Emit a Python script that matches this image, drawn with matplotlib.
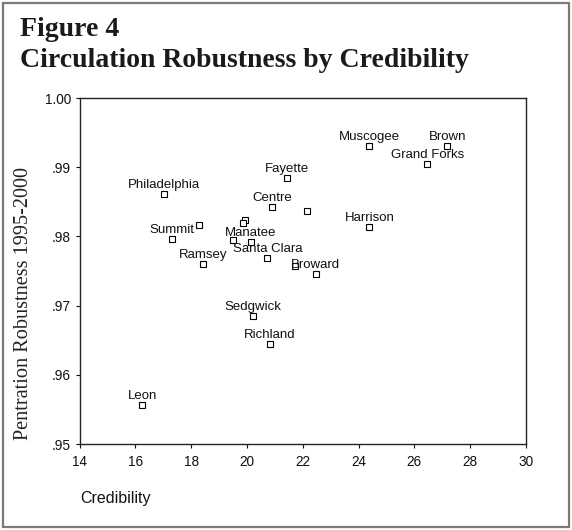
import matplotlib
matplotlib.use("Agg")
import matplotlib.pyplot as plt
from matplotlib.patches import Rectangle
from matplotlib.ticker import FixedLocator, FixedFormatter

# Credibility score and penetration robustness (1995-2000) by county
counties = ["Philadelphia", "", "Summit", "Ramsey", "Fayette", "Centre", "",
            "", "", "", "Manatee", "Santa Clara", "", "Broward",
            "Muscogee", "Brown", "Grand Forks", "Harrison",
            "Sedgwick", "Richland", "Leon"]
credibility = [17.04, 18.29, 17.30, 18.42, 21.45, 20.91, 22.16,
               19.93, 19.85, 19.50, 20.15, 20.73, 21.72, 22.47,
               24.39, 27.18, 26.47, 24.39,
               20.23, 20.83, 16.25]
robustness = [0.9861, 0.9816, 0.9796, 0.9760, 0.9885, 0.9843, 0.9836,
              0.9823, 0.9819, 0.9795, 0.9792, 0.9769, 0.9757, 0.9746,
              0.9931, 0.9931, 0.9904, 0.9813,
              0.9685, 0.9644, 0.9557]

x_ticks = [14, 16, 18, 20, 22, 24, 26, 28, 30]
y_ticks = [0.95, 0.96, 0.97, 0.98, 0.99, 1.00]
y_tick_labels = [".95", ".96", ".97", ".98", ".99", "1.00"]

W, H = 572, 530
fig = plt.figure(figsize=(W / 100, H / 100), dpi=100)
fig.patch.set_facecolor("white")

# outer frame around the whole figure
fig.add_artist(Rectangle((3 / W, 3 / H), (W - 6) / W, (H - 6) / H,
                         transform=fig.transFigure, fill=False,
                         edgecolor="#7a7a7a", linewidth=1.6))

ax = fig.add_axes([79.5 / W, 1 - 444 / H, (526 - 79.5) / W, (444 - 98) / H])
ax.set_xlim(14, 30)
ax.set_ylim(0.95, 1.00)

ax.plot(credibility, robustness, linestyle="none", marker="s",
        markersize=4, markerfacecolor="white", markeredgecolor="black",
        markeredgewidth=0.8)

sans = ["Liberation Sans", "DejaVu Sans"]
for name, cx, cy in zip(counties, credibility, robustness):
    if name:
        ax.annotate(name, (cx, cy), xytext=(0, 4.3), textcoords="offset points",
                    ha="center", va="baseline", fontsize=9.5, family=sans,
                    color="#111111")

ax.xaxis.set_major_locator(FixedLocator(x_ticks))
ax.yaxis.set_major_locator(FixedLocator(y_ticks))
ax.yaxis.set_major_formatter(FixedFormatter(y_tick_labels))
ax.tick_params(direction="out", length=3, width=0.8, labelsize=9.8,
               colors="#111111")
ax.tick_params(axis="x", pad=5)
ax.tick_params(axis="y", pad=3)
for lab in ax.get_xticklabels() + ax.get_yticklabels():
    lab.set_family(sans)
for sp in ax.spines.values():
    sp.set_linewidth(1.0)
    sp.set_color("#222222")

serif = ["Liberation Serif", "DejaVu Serif"]
fig.text(20 / W, 1 - 36 / H, "Figure 4", family=serif, fontweight="bold",
         fontsize=20, va="baseline", ha="left", color="#1a1a1a")
fig.text(20 / W, 1 - 67 / H, "Circulation Robustness by Credibility",
         family=serif, fontweight="bold", fontsize=20, va="baseline",
         ha="left", color="#1a1a1a")

fig.text(24 / W, 1 - 303 / H, "Pentration Robustness 1995-2000", family=serif,
         fontsize=14.6, rotation=90, ha="center", va="center", color="#222222")

fig.text(80 / W, 1 - 499 / H, "Credibility", family=sans, fontsize=11.5,
         ha="left", va="center", color="#111111")

fig.savefig("out.png", dpi=100, facecolor="white")
